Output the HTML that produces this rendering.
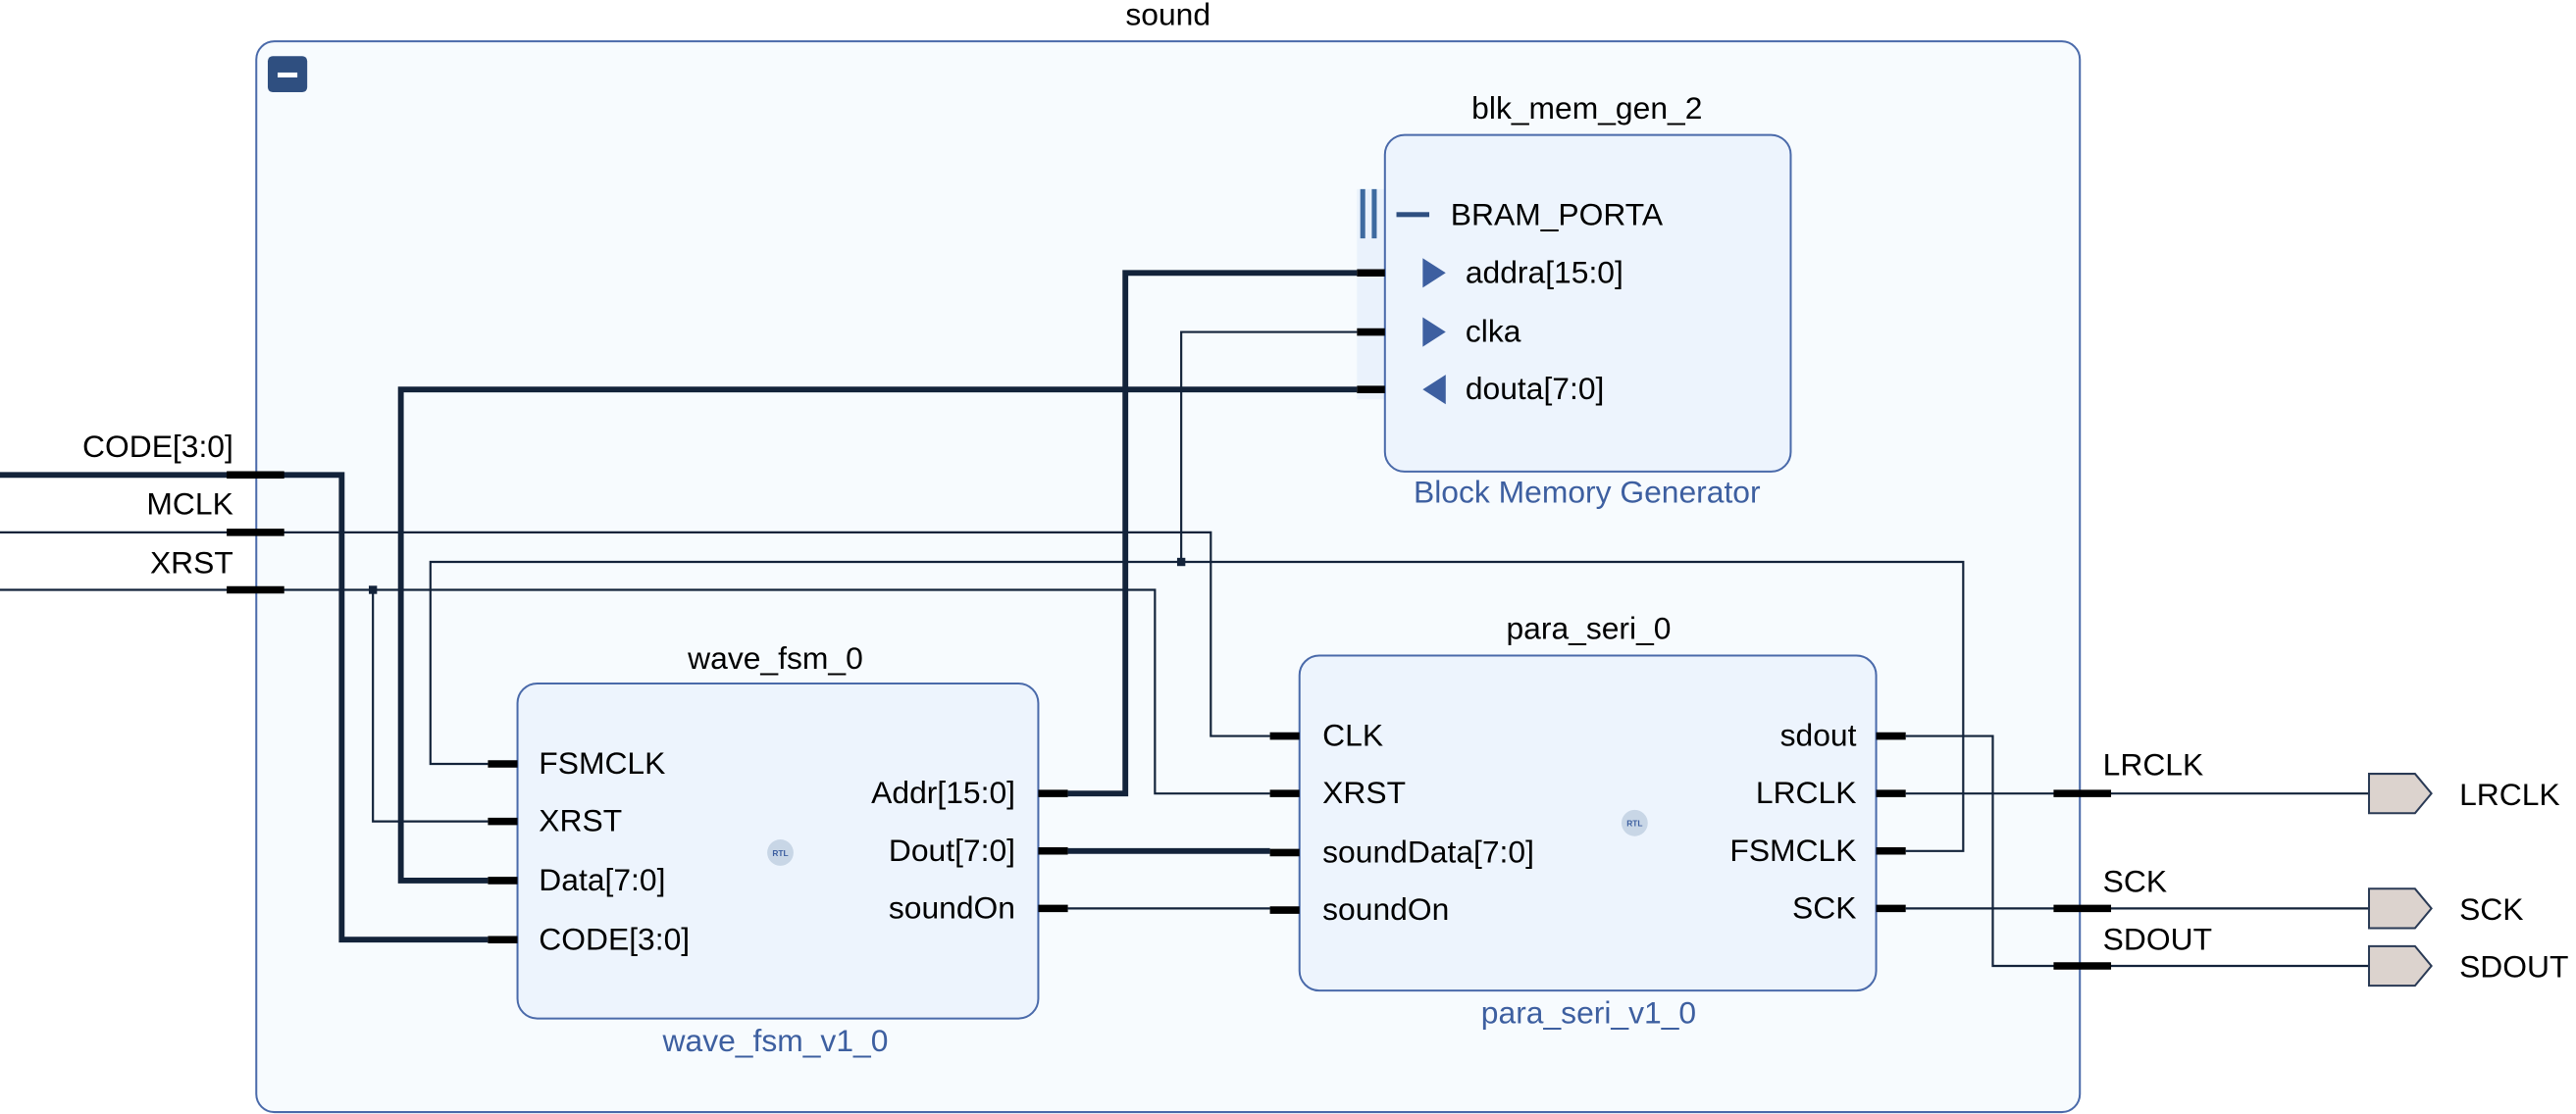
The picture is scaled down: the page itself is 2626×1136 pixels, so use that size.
<!DOCTYPE html>
<html><head><meta charset="utf-8"><style>
html,body{margin:0;padding:0;background:#fff;}
svg{display:block}
text{font-family:"Liberation Sans",sans-serif;font-size:19px;fill:#000}
.b{fill:#3d5fa0}
</style></head><body>
<svg width="2626" height="1136" viewBox="0 0 1568 678" xmlns="http://www.w3.org/2000/svg">
<rect x="0" y="0" width="1568" height="678" fill="#fff"/>
<text x="711" y="15" text-anchor="middle">sound</text>
<rect x="156" y="25" width="1110" height="652" rx="11" fill="#f7fbfe" stroke="#4a6aaa" stroke-width="1.2"/>
<rect x="163" y="34" width="24" height="22" rx="3" fill="#2f4f80"/>
<rect x="169" y="44" width="12" height="3" fill="#fff"/>

<rect x="826" y="115" width="17" height="128" fill="#eaf2fc"/>
<rect x="843" y="82" width="247" height="205" rx="12" fill="#edf4fd" stroke="#4a6aaa" stroke-width="1.2"/>
<text x="966" y="72" text-anchor="middle">blk_mem_gen_2</text>
<text x="966" y="306" text-anchor="middle" class="b">Block Memory Generator</text>
<rect x="828" y="115" width="3" height="30" fill="#3d6aa0"/><rect x="835" y="115" width="3" height="30" fill="#3d6aa0"/>
<rect x="850" y="129" width="20" height="3" fill="#2f4f80"/>
<text x="883" y="137">BRAM_PORTA</text>
<polygon points="866,157 880,166 866,175" fill="#3d5fa0"/><text x="892" y="172">addra[15:0]</text>
<polygon points="866,193 880,202 866,211" fill="#3d5fa0"/><text x="892" y="208">clka</text>
<polygon points="880,228 866,237 880,246" fill="#3d5fa0"/><text x="892" y="243">douta[7:0]</text>

<rect x="315" y="416" width="317" height="204" rx="12" fill="#edf4fd" stroke="#4a6aaa" stroke-width="1.2"/>
<text x="472" y="407" text-anchor="middle">wave_fsm_0</text>
<text x="472" y="640" text-anchor="middle" class="b">wave_fsm_v1_0</text>
<text x="328" y="471">FSMCLK</text><text x="328" y="506">XRST</text><text x="328" y="542">Data[7:0]</text><text x="328" y="578">CODE[3:0]</text>
<text x="618" y="489" text-anchor="end">Addr[15:0]</text><text x="618" y="524" text-anchor="end">Dout[7:0]</text><text x="618" y="559" text-anchor="end">soundOn</text>
<circle cx="475" cy="519" r="8" fill="#c8d6e6"/><text x="475" y="521" text-anchor="middle" style="font-size:5px;font-weight:bold;fill:#3d5fa0">RTL</text>

<rect x="791" y="399" width="351" height="204" rx="12" fill="#edf4fd" stroke="#4a6aaa" stroke-width="1.2"/>
<text x="967" y="389" text-anchor="middle">para_seri_0</text>
<text x="967" y="623" text-anchor="middle" class="b">para_seri_v1_0</text>
<text x="805" y="454">CLK</text><text x="805" y="489">XRST</text><text x="805" y="525">soundData[7:0]</text><text x="805" y="560">soundOn</text>
<text x="1130" y="454" text-anchor="end">sdout</text><text x="1130" y="489" text-anchor="end">LRCLK</text><text x="1130" y="524" text-anchor="end">FSMCLK</text><text x="1130" y="559" text-anchor="end">SCK</text>
<circle cx="995" cy="501" r="8" fill="#c8d6e6"/><text x="995" y="503" text-anchor="middle" style="font-size:5px;font-weight:bold;fill:#3d5fa0">RTL</text>

<g fill="none" stroke="#13233a" stroke-width="3.5">
<polyline points="0,289 208,289 208,572 297,572"/>
<polyline points="650,483 685,483 685,166 826,166"/>
<polyline points="826,237 244,237 244,536 297,536"/>
<polyline points="650,518 773,518"/>
</g>
<g fill="none" stroke="#13233a" stroke-width="1.3">
<polyline points="0,324 737,324 737,448 773,448"/>
<polyline points="0,359 703,359 703,483 773,483"/>
<polyline points="227,359 227,500 297,500"/>
<polyline points="1160,518 1195,518 1195,342 262,342 262,465 297,465"/>
<polyline points="719,342 719,202 826,202"/>
<polyline points="650,553 773,553"/>
<polyline points="1160,448 1213,448 1213,588 1442,588"/>
<polyline points="1160,483 1442,483"/>
<polyline points="1160,553 1442,553"/>
</g>
<rect x="224.5" y="356.5" width="5" height="5" fill="#13233a"/>
<rect x="716.5" y="339.5" width="5" height="5" fill="#13233a"/>
<g stroke="#000" stroke-width="4.5">
<line x1="138" y1="289" x2="173" y2="289"/><line x1="138" y1="324" x2="173" y2="324"/><line x1="138" y1="359" x2="173" y2="359"/>
<line x1="826" y1="166" x2="843" y2="166"/><line x1="826" y1="202" x2="843" y2="202"/><line x1="826" y1="237" x2="843" y2="237"/>
<line x1="297" y1="465" x2="315" y2="465"/><line x1="297" y1="500" x2="315" y2="500"/><line x1="297" y1="536" x2="315" y2="536"/><line x1="297" y1="572" x2="315" y2="572"/>
<line x1="632" y1="483" x2="650" y2="483"/><line x1="632" y1="518" x2="650" y2="518"/><line x1="632" y1="553" x2="650" y2="553"/>
<line x1="773" y1="448" x2="791" y2="448"/><line x1="773" y1="483" x2="791" y2="483"/><line x1="773" y1="519" x2="791" y2="519"/><line x1="773" y1="554" x2="791" y2="554"/>
<line x1="1142" y1="448" x2="1160" y2="448"/><line x1="1142" y1="483" x2="1160" y2="483"/><line x1="1142" y1="518" x2="1160" y2="518"/><line x1="1142" y1="553" x2="1160" y2="553"/>
<line x1="1250" y1="483" x2="1285" y2="483"/><line x1="1250" y1="553" x2="1285" y2="553"/><line x1="1250" y1="588" x2="1285" y2="588"/>
</g>
<text x="142" y="278" text-anchor="end">CODE[3:0]</text>
<text x="142" y="313" text-anchor="end">MCLK</text>
<text x="142" y="349" text-anchor="end">XRST</text>
<text x="1280" y="472">LRCLK</text><text x="1280" y="543">SCK</text><text x="1280" y="578">SDOUT</text>
<g fill="#dcd3ce" stroke="#2a3a55" stroke-width="1.2">
<polygon points="1442,471 1470,471 1480,483 1470,495 1442,495"/>
<polygon points="1442,541 1470,541 1480,553 1470,565 1442,565"/>
<polygon points="1442,576 1470,576 1480,588 1470,600 1442,600"/>
</g>
<text x="1497" y="490">LRCLK</text><text x="1497" y="560">SCK</text><text x="1497" y="595">SDOUT</text>
</svg>
</body></html>
